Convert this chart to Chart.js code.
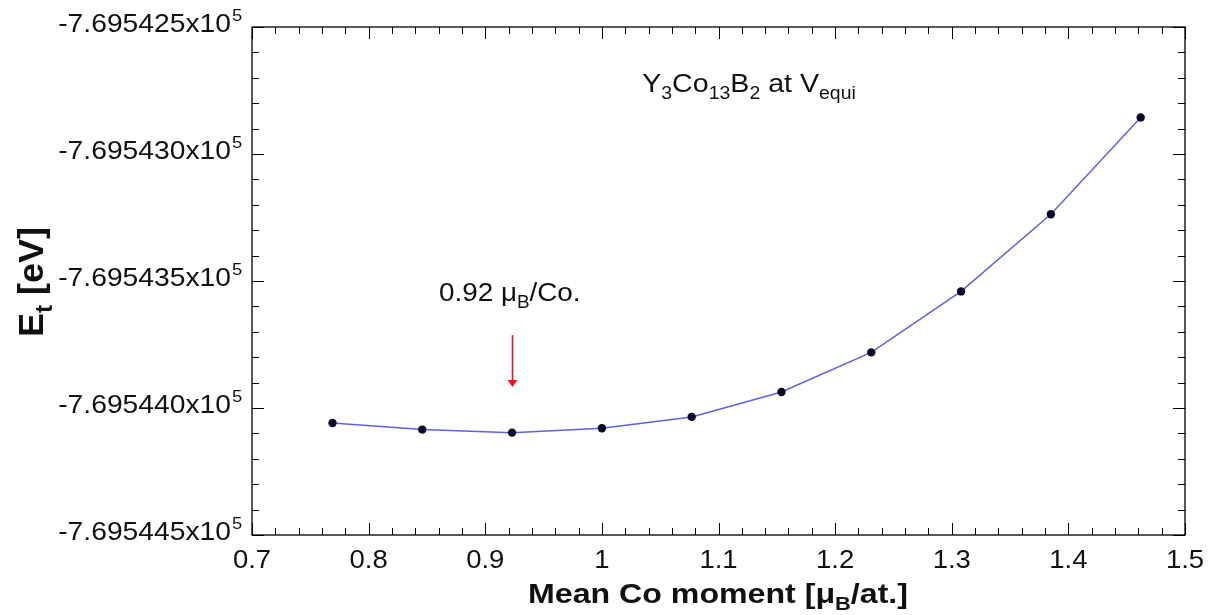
<!DOCTYPE html>
<html>
<head>
<meta charset="utf-8">
<script src="https://cdn.jsdelivr.net/npm/chart.js@4/dist/chart.umd.min.js"></script>
<style>
  html, body { margin: 0; padding: 0; background: #fff; }
  #wrap { width: 1208px; height: 615px; }
</style>
</head>
<body>
<div id="wrap"><canvas id="energyChart" width="1208" height="615"></canvas></div>
<script>
// mean Co moment (muB/at.) and total energy (eV)
const moments = [0.769, 0.846, 0.923, 1.000, 1.077, 1.154, 1.231, 1.308, 1.385, 1.462];
const energies = [-769544.059, -769544.085, -769544.097, -769544.080, -769544.035,
                  -769543.937, -769543.781, -769543.541, -769543.237, -769542.856];

const xTicks = [0.7, 0.8, 0.9, 1.0, 1.1, 1.2, 1.3, 1.4, 1.5];
const xTickLabels = ['0.7', '0.8', '0.9', '1', '1.1', '1.2', '1.3', '1.4', '1.5'];
const yTicks = [-769542.5, -769543.0, -769543.5, -769544.0, -769544.5];

// arrow marking the minimum
const arrowX = 0.923;
const arrowTop = -769543.713;
const arrowBottom = -769543.917;

const FONT = '"Liberation Sans", Arial, Helvetica, sans-serif';

function fontOf(size, bold) {
  return (bold ? 'bold ' : '') + size + 'px ' + FONT;
}

// draws a run of text pieces, some of them sub/superscript, stretched by sx
function drawRuns(ctx, runs, x, y, size, bold, align, sx) {
  let total = 0;
  runs.forEach(r => {
    const s = r.k ? size * 0.68 : size;
    ctx.font = fontOf(s, bold);
    r.w = ctx.measureText(r.t).width;
    r.s = s;
    total += r.w;
  });
  let x0 = x;
  if (align === 'center') x0 = x - total * sx / 2;
  if (align === 'right') x0 = x - total * sx;
  ctx.save();
  ctx.translate(x0, y);
  ctx.scale(sx, 1);
  ctx.textAlign = 'left';
  ctx.textBaseline = 'alphabetic';
  let cx = 0;
  runs.forEach(r => {
    ctx.font = fontOf(r.s, bold);
    let dy = 0;
    if (r.k === 'sub') dy = size * 0.25;
    if (r.k === 'sup') dy = -size * 0.45;
    ctx.fillText(r.t, cx, dy);
    cx += r.w;
  });
  ctx.restore();
}

const framePlugin = {
  id: 'frame',
  afterDraw(chart) {
    const ctx = chart.ctx;
    const xs = chart.scales.x;
    const ys = chart.scales.y;
    const a = chart.chartArea;
    ctx.save();
    ctx.strokeStyle = '#000';
    ctx.fillStyle = '#000';
    ctx.lineWidth = 1.3;
    ctx.strokeRect(a.left, a.top, a.right - a.left, a.bottom - a.top);

    // inward ticks on all four sides
    ctx.lineWidth = 1;
    ctx.beginPath();
    for (let i = 0; i <= 40; i++) {
      const v = 0.7 + i * 0.02;
      const px = Math.round(xs.getPixelForValue(v)) + 0.5;
      const len = i % 5 === 0 ? 12 : 7;
      ctx.moveTo(px, a.bottom); ctx.lineTo(px, a.bottom - len);
      ctx.moveTo(px, a.top); ctx.lineTo(px, a.top + len);
    }
    for (let i = 0; i <= 20; i++) {
      const v = -769544.5 + i * 0.1;
      const py = Math.round(ys.getPixelForValue(v)) + 0.5;
      const len = i % 5 === 0 ? 12 : 7;
      ctx.moveTo(a.left, py); ctx.lineTo(a.left + len, py);
      ctx.moveTo(a.right, py); ctx.lineTo(a.right - len, py);
    }
    ctx.stroke();

    // tick labels
    ctx.fillStyle = '#111';
    xTicks.forEach((v, i) => {
      drawRuns(ctx, [{ t: xTickLabels[i] }], xs.getPixelForValue(v), 568, 25, false, 'center', 1.1);
    });
    yTicks.forEach(v => {
      const py = ys.getPixelForValue(v);
      drawRuns(ctx, [{ t: (v / 1e5).toFixed(6) + 'x10' }], 231, py + 5, 25, false, 'right', 1.13);
      drawRuns(ctx, [{ t: '5' }], 232, py - 6, 16, false, 'left', 1.15);
    });

    // axis titles
    drawRuns(ctx, [{ t: 'Mean Co moment [\u03bc' }, { t: 'B', k: 'sub' }, { t: '/at.]' }],
      718, 603, 27, true, 'center', 1.19);
    ctx.save();
    ctx.translate(43, 282);
    ctx.rotate(-Math.PI / 2);
    ctx.scale(1, 1.15);
    drawRuns(ctx, [{ t: 'E' }, { t: 't', k: 'sub' }, { t: ' [eV]' }], 0, 0, 30, true, 'center', 1.2);
    ctx.restore();

    // annotations
    drawRuns(ctx, [{ t: 'Y' }, { t: '3', k: 'sub' }, { t: 'Co' }, { t: '13', k: 'sub' }, { t: 'B' },
      { t: '2', k: 'sub' }, { t: ' at V' }, { t: 'equi', k: 'sub' }], 749, 92, 26, false, 'center', 1.1);
    drawRuns(ctx, [{ t: '0.92 \u03bc' }, { t: 'B', k: 'sub' }, { t: '/Co.' }], 439, 301, 26, false, 'left', 1.07);

    // red arrow
    const ax = Math.round(xs.getPixelForValue(arrowX)) + 0.5;
    const at = ys.getPixelForValue(arrowTop);
    const ab = ys.getPixelForValue(arrowBottom);
    ctx.strokeStyle = '#e8141c';
    ctx.fillStyle = '#e8141c';
    ctx.lineWidth = 1.6;
    ctx.beginPath();
    ctx.moveTo(ax, at); ctx.lineTo(ax, ab - 5);
    ctx.stroke();
    ctx.beginPath();
    ctx.moveTo(ax - 5, ab - 7); ctx.lineTo(ax + 5, ab - 7); ctx.lineTo(ax, ab);
    ctx.closePath();
    ctx.fill();
    ctx.restore();
  }
};

new Chart(document.getElementById('energyChart'), {
  type: 'scatter',
  data: {
    datasets: [{
      data: moments.map((m, i) => ({ x: m, y: energies[i] })),
      showLine: true,
      borderColor: '#6060e0',
      borderWidth: 1.5,
      tension: 0,
      pointRadius: 4.2,
      pointBackgroundColor: '#05052a',
      pointBorderWidth: 0
    }]
  },
  options: {
    responsive: false,
    animation: false,
    layout: { padding: { left: 0, top: 27, right: 23, bottom: 0 } },
    plugins: { legend: { display: false }, tooltip: { enabled: false } },
    scales: {
      x: {
        type: 'linear', min: 0.7, max: 1.5,
        grid: { display: false }, border: { display: false },
        ticks: { display: false },
        afterFit(scale) { scale.height = 80; }
      },
      y: {
        type: 'linear', min: -769544.5, max: -769542.5,
        grid: { display: false }, border: { display: false },
        ticks: { display: false },
        afterFit(scale) { scale.width = 252; }
      }
    }
  },
  plugins: [framePlugin]
});
</script>
</body>
</html>
